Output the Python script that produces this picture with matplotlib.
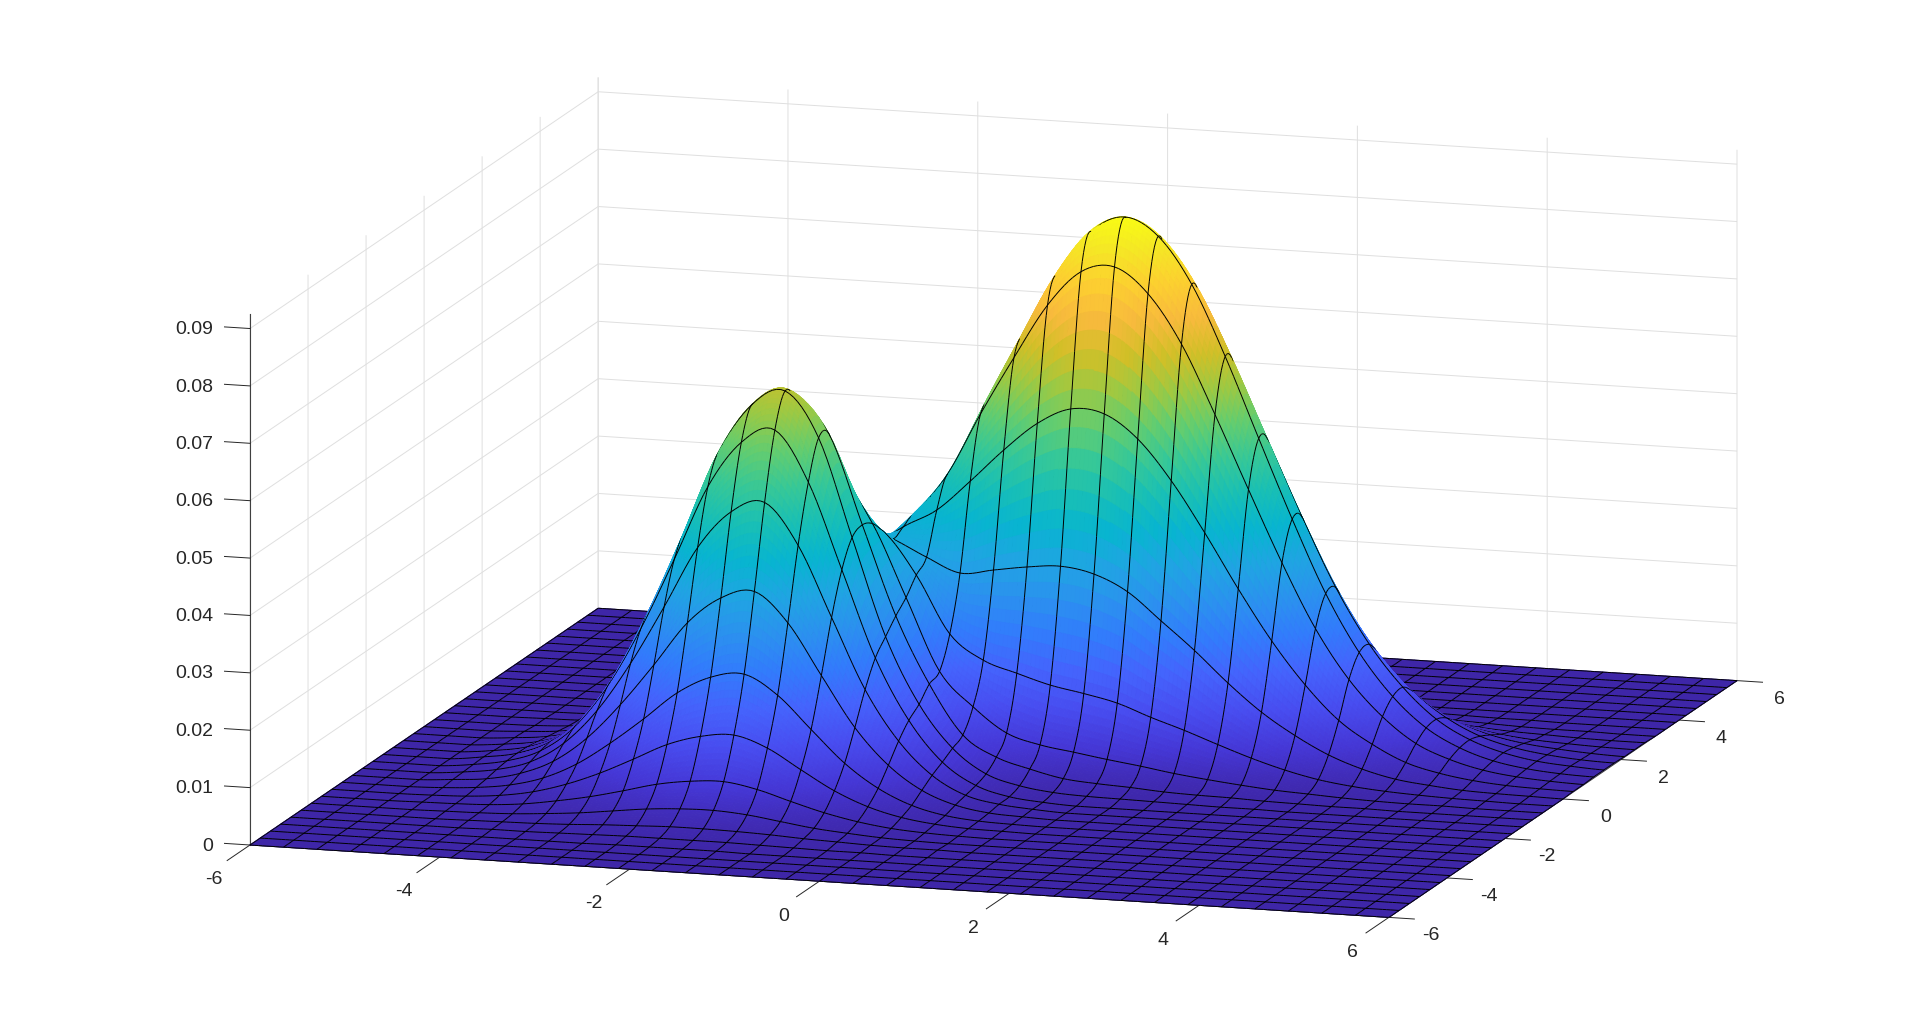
import matplotlib
matplotlib.use('Agg')
import matplotlib.pyplot as plt
import numpy as np
from matplotlib.colors import LinearSegmentedColormap
from matplotlib.ticker import NullFormatter
from mpl_toolkits.mplot3d import proj3d
from mpl_toolkits.mplot3d.art3d import Poly3DCollection

plt.rcParams['font.family'] = 'Liberation Sans'
plt.rcParams['grid.color'] = '#dfdfdf'
plt.rcParams['grid.linewidth'] = 0.7
plt.rcParams['xtick.major.width'] = 0.7
plt.rcParams['ytick.major.width'] = 0.7

x_ticks = [-6, -4, -2, 0, 2, 4, 6]
y_ticks = [-6, -4, -2, 0, 2, 4, 6]
z_ticks = [0, 0.01, 0.02, 0.03, 0.04, 0.05, 0.06, 0.07, 0.08, 0.09]
x_labels = ['-6', '-4', '-2', '0', '2', '4', '6']
y_labels = ['-6', '-4', '-2', '0', '2', '4', '6']
z_labels = ['0', '0.01', '0.02', '0.03', '0.04', '0.05', '0.06', '0.07', '0.08', '0.09']

z_read = [
    [0]*35,
    [0]*35,
    [0]*35,
    [0]*10 + [1, 1, 1, 1] + [0]*21,
    [0]*6 + [1, 1, 2, 3, 4, 4, 4, 4, 3, 2, 1, 1] + [0]*17,
    [0]*5 + [1, 2, 3, 5, 8, 10, 12, 12, 11, 9, 6, 4, 2, 1, 1] + [0]*15,
    [0]*4 + [1, 2, 4, 8, 13, 20, 27, 31, 32, 28, 20, 12, 7, 3, 1] + [0]*16,
    [0]*3 + [1, 2, 4, 9, 18, 29, 43, 58, 67, 70, 60, 43, 27, 15, 7, 3, 1] + [0]*15,
    [0]*3 + [1, 3, 8, 18, 35, 58, 86, 115, 133, 139, 120, 86, 53, 29, 14, 6, 2, 1] + [0]*14,
    [0]*3 + [2, 6, 14, 30, 58, 98, 144, 193, 224, 233, 200, 144, 89, 49, 23, 9, 3, 1] + [0]*14,
    [0]*3 + [4, 9, 22, 47, 91, 153, 226, 303, 350, 365, 314, 226, 139, 77, 37, 15, 5, 2] + [0]*14,
    [0]*3 + [5, 13, 30, 66, 127, 213, 315, 422, 488, 508, 437, 315, 193, 107, 51, 20, 8, 3] + [0]*14,
    [0]*3 + [6, 16, 37, 81, 156, 261, 386, 516, 597, 622, 535, 386, 236, 131, 62, 25, 9, 3] + [0]*14,
    [0]*3 + [7, 17, 41, 88, 169, 284, 419, 562, 650, 678, 600, 430, 261, 147, 74, 33, 16, 8, 5, 4, 3, 2, 1, 1] + [0]*8,
    [0]*3 + [6, 16, 39, 84, 161, 271, 400, 535, 619, 645, 595, 440, 285, 170, 85, 50, 33, 20, 15, 12, 8, 6, 5, 3, 2, 1, 1] + [0]*5,
    [0]*3 + [5, 13, 32, 69, 133, 223, 329, 440, 509, 530, 510, 430, 305, 180, 122, 80, 63, 54, 45, 37, 28, 21, 15, 10, 7, 4, 2, 1, 1] + [0]*3,
    [0]*3 + [4, 10, 24, 52, 100, 168, 248, 332, 384, 400, 420, 405, 332, 233, 191, 172, 155, 144, 131, 110, 91, 70, 50, 33, 20, 12, 7, 4, 2, 1] + [0]*2,
    [0]*3 + [3, 7, 17, 36, 68, 114, 173, 240, 300, 360, 400, 379, 351, 327, 336, 345, 350, 340, 313, 266, 218, 165, 118, 81, 51, 30, 16, 9, 4, 2, 1] + [0]*1,
    [0]*3 + [1, 4, 10, 22, 41, 70, 110, 160, 225, 290, 345, 388, 421, 475, 533, 583, 612, 607, 567, 498, 411, 317, 230, 157, 99, 61, 33, 18, 9, 4, 2, 1],
    [0]*3 + [1, 2, 6, 12, 24, 41, 67, 120, 180, 250, 330, 395, 470, 580, 682, 777, 839, 851, 808, 724, 605, 478, 354, 243, 158, 97, 54, 30, 15, 7, 3, 1],
    [0]*4 + [1, 3, 6, 12, 23, 39, 65, 110, 195, 270, 350, 440, 580, 700, 815, 897, 926, 896, 816, 694, 555, 418, 292, 193, 120, 69, 38, 19, 9, 4, 2],
    [0]*6 + [3, 6, 13, 23, 40, 66, 130, 200, 285, 370, 490, 598, 710, 795, 833, 821, 759, 656, 534, 408, 290, 195, 124, 72, 40, 21, 10, 5, 2],
    [0]*7 + [2, 6, 12, 22, 38, 66, 125, 185, 255, 335, 416, 502, 572, 610, 611, 574, 504, 417, 324, 234, 161, 103, 62, 34, 18, 9, 4, 2],
    [0]*7 + [1, 2, 4, 10, 18, 32, 53, 95, 135, 183, 229, 282, 328, 356, 362, 347, 311, 261, 207, 152, 106, 69, 42, 24, 13, 7, 3, 1],
    [0]*8 + [1, 2, 4, 7, 13, 22, 36, 54, 78, 103, 130, 153, 169, 175, 170, 155, 133, 107, 80, 57, 38, 23, 13, 7, 4, 2, 1],
    [0]*10 + [1, 2, 4, 8, 13, 20, 29, 39, 49, 59, 66, 70, 69, 64, 55, 45, 34, 25, 17, 10, 6, 4, 2, 1, 1],
    [0]*12 + [1, 2, 4, 6, 8, 11, 15, 18, 20, 22, 22, 21, 18, 15, 12, 9, 6, 4, 2, 1, 1] + [0]*2,
    [0]*14 + [1, 2, 2, 3, 4, 5, 5, 6, 6, 6, 5, 5, 4, 3, 2, 1, 1] + [0]*4,
    [0]*19 + [1, 1, 1, 1, 1, 1, 1] + [0]*9,
    [0]*35,
    [0]*35,
    [0]*35,
    [0]*35,
    [0]*35,
    [0]*35,
]

parula_pos = [0, 4, 8, 12, 16, 20, 24, 28, 32, 36, 40, 44, 48, 52, 56, 60, 63]
parula_rgb = [(.2422, .1504, .6603), (.2706, .2147, .8364), (.2813, .3006, .9414), (.2699, .3892, .9906),
              (.1963, .4847, .9892), (.1687, .5703, .9359), (.1248, .6459, .8883), (.0297, .7082, .8163),
              (.0964, .7500, .7120), (.2161, .7843, .5923), (.3909, .8029, .4354), (.6174, .7876, .2612),
              (.8203, .7498, .1535), (.9728, .7298, .2394), (.9892, .8136, .1885), (.9597, .9135, .1423),
              (.9769, .9839, .0805)]
cmap = LinearSegmentedColormap.from_list('parula', [(p / 63, c) for p, c in zip(parula_pos, parula_rgb)], N=512)

x = np.linspace(-6, 6, 35)
y = np.linspace(-6, 6, 35)
Z = np.array(z_read) * 1e-4
z_top = 0.0925

# target pixels of two floor corners
p_left = (250, 1031 - 845)
p_right = (1737, 1031 - 681)

fig = plt.figure(figsize=(19.2, 10.31), dpi=100)
side = 2000.0
ax = fig.add_axes([0, 0, 1, 1], projection='3d', proj_type='ortho')
ax.view_init(elev=12, azim=-73)
ax.set_box_aspect((1, 1, 0.4557))
ax.set_xlim(-6, 6)
ax.set_ylim(-6, 6)
ax.set_zlim(0, z_top)


def place(cx, cy, s):
    ax.set_position([(cx - s / 2) / 1920, (cy - s / 2) / 1031, s / 1920, s / 1031])
    ax.apply_aspect()


def to_px(px, py, pz):
    a, b, _ = proj3d.proj_transform(px, py, pz, ax.get_proj())
    return ax.transData.transform((a, b))


place(960, 515, side)
a0 = to_px(-6, -6, 0)
a1 = to_px(6, 6, 0)
scale = (p_right[0] - p_left[0]) / (a1[0] - a0[0])
place(p_left[0] - scale * (a0[0] - 960), p_left[1] - scale * (a0[1] - 515), side * scale)


def smooth(A, k):
    # catmull-rom along the first axis, only for drawing the faces and lines round
    t = (np.arange(k) / k).reshape(-1, 1)
    w0 = -0.5 * t + t**2 - 0.5 * t**3
    w1 = 1 - 2.5 * t**2 + 1.5 * t**3
    w2 = 0.5 * t + 2 * t**2 - 1.5 * t**3
    w3 = -0.5 * t**2 + 0.5 * t**3
    P = np.vstack([A[:1], A, A[-1:]])
    out = []
    for n in range(len(A) - 1):
        out.append(w0 * P[n] + w1 * P[n + 1] + w2 * P[n + 2] + w3 * P[n + 3])
    out.append(A[-1:])
    return np.vstack(out)


k = 8
xf = np.linspace(-6, 6, 34 * k + 1)
yf = np.linspace(-6, 6, 34 * k + 1)
Zf = np.clip(smooth(smooth(Z, k).T, k).T, 0, None)
Xf, Yf = np.meshgrid(xf, yf)


def cell_corners(A):
    return np.stack([A[:-1, :-1], A[:-1, 1:], A[1:, 1:], A[1:, :-1]], axis=-1).reshape(-1, 4)


faces = np.stack([cell_corners(Xf), cell_corners(Yf), cell_corners(Zf)], axis=-1)
face_colors = cmap(cell_corners(Zf).mean(axis=1) / Z.max())

# mesh lines are moved a bit toward the viewer so they sort just in front of their faces
shift = np.array([0.029, -0.094, 0.00035])
lines = []
for j in range(0, 34 * k + 1, k):
    pts = np.stack([Xf[j], Yf[j], Zf[j]], axis=-1) + shift
    lines.append(np.stack([pts[:-1], pts[1:], pts[1:], pts[:-1]], axis=1))
for i in range(0, 34 * k + 1, k):
    pts = np.stack([Xf[:, i], Yf[:, i], Zf[:, i]], axis=-1) + shift
    lines.append(np.stack([pts[:-1], pts[1:], pts[1:], pts[:-1]], axis=1))
lines = np.concatenate(lines)

verts = np.concatenate([faces, lines])
black = np.tile([0.0, 0.0, 0.0, 1.0], (len(lines), 1))
colors = np.concatenate([face_colors, black])
surf = Poly3DCollection(verts, facecolors=colors, edgecolors=colors, linewidths=0.7)
ax.add_collection3d(surf)

ax.set_xticks(x_ticks)
ax.set_yticks(y_ticks)
ax.set_zticks(z_ticks)
ax.xaxis.set_major_formatter(NullFormatter())
ax.yaxis.set_major_formatter(NullFormatter())
ax.zaxis.set_major_formatter(NullFormatter())
ax.set_xlim(-6, 6)
ax.set_ylim(-6, 6)
ax.set_zlim(0, z_top)
ax.zaxis.set_ticks_position('lower')
ax.zaxis._get_tickdir = lambda pos: 0  # z ticks along x, as in the reference

for axis, tick_len in ((ax.xaxis, 0.82), (ax.yaxis, 0.28)):
    axis._axinfo['tick'].update(inward_factor=tick_len, outward_factor=0)
ax.zaxis._axinfo['tick'].update(inward_factor=0, outward_factor=0.28)
for axis in (ax.xaxis, ax.yaxis, ax.zaxis):
    axis.set_pane_color((1, 1, 1, 0))
    axis.pane.set_edgecolor('none')
    axis.line.set_color('#404040')
    axis.line.set_linewidth(0.8)
ax.tick_params(axis='both', colors='#262626')
ax.tick_params(axis='z', colors='#262626')


def label(px, py, pz, s, ha):
    a, b = to_px(px, py, pz)
    fig.text(a / 1920, b / 1031, s, fontsize=14, color='#262626', ha=ha, va='center')


for v, s in zip(x_ticks, x_labels):
    label(v + 0.03, -7.34, -0.00143, s, 'center')
for v, s in zip(y_ticks, y_labels):
    label(6.447, v, -0.00275, s, 'center')
for v, s in zip(z_ticks, z_labels):
    label(-6.39, -6, v - 0.0006, s, 'right')

fig.savefig('out.png', dpi=100, facecolor='white')
